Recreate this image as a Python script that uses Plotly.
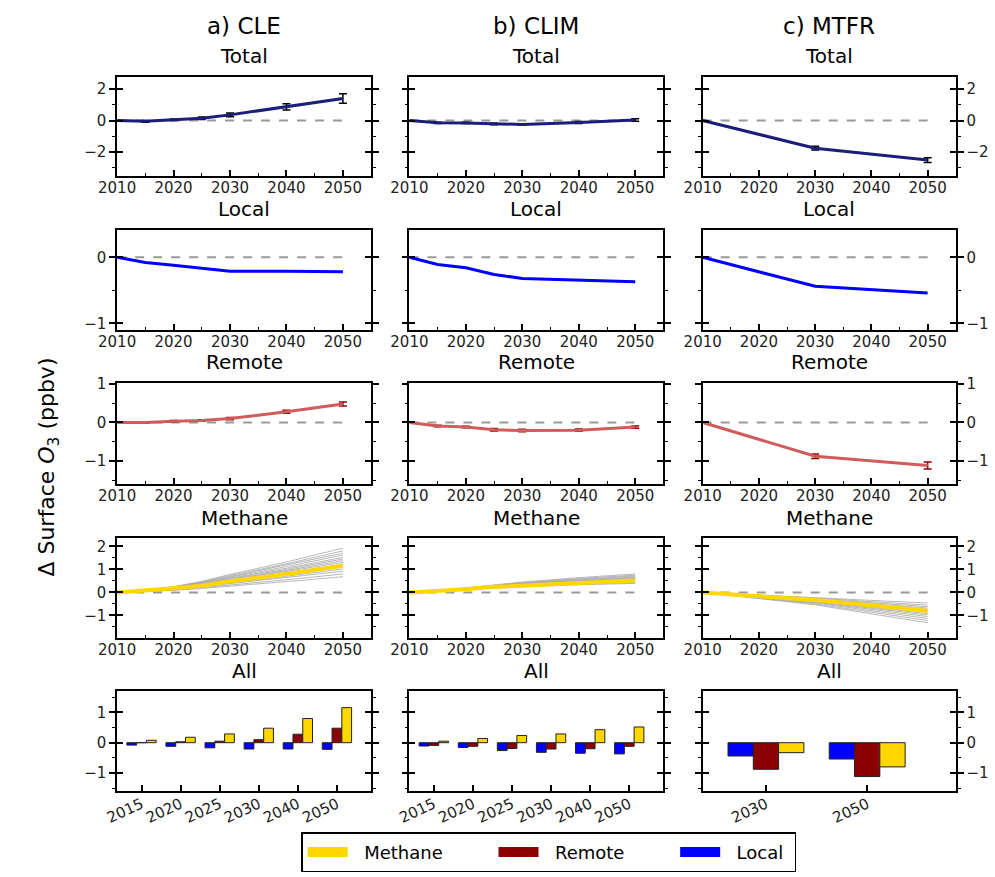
import plotly.graph_objects as go

# ---------------- data ----------------
years_cle = [2010, 2015, 2020, 2025, 2030, 2040, 2050]
years_clim = [2010, 2015, 2020, 2025, 2030, 2040, 2050]
years_mtfr = [2010, 2030, 2050]

total_cle = [0, -0.05, 0.05, 0.15, 0.36, 0.87, 1.40]
total_cle_err = [0, 0.05, 0.05, 0.08, 0.12, 0.20, 0.30]
total_clim = [0, -0.14, -0.15, -0.22, -0.25, -0.12, 0.03]
total_clim_err = [0, 0.04, 0.04, 0.05, 0.05, 0.06, 0.08]
total_mtfr = [0, -1.75, -2.50]
total_mtfr_err = [0, 0.12, 0.15]

local_cle = [0, -0.08, -0.12, -0.17, -0.21, -0.21, -0.22]
local_clim = [0, -0.11, -0.16, -0.26, -0.32, -0.35, -0.37]
local_mtfr = [0, -0.44, -0.54]

remote_cle = [0, 0.00, 0.03, 0.05, 0.10, 0.28, 0.48]
remote_cle_err = [0, 0.02, 0.02, 0.02, 0.03, 0.04, 0.05]
remote_clim = [0, -0.09, -0.12, -0.19, -0.21, -0.20, -0.12]
remote_clim_err = [0, 0.02, 0.02, 0.03, 0.03, 0.03, 0.03]
remote_mtfr = [0, -0.88, -1.12]
remote_mtfr_err = [0, 0.06, 0.09]

methane_cle = [0, 0.08, 0.18, 0.29, 0.48, 0.80, 1.16]
methane_clim = [0, 0.05, 0.14, 0.24, 0.29, 0.43, 0.52]
methane_mtfr = [0, -0.33, -0.80]

# individual methane ensemble members (grey lines)
members_cle = [
    [0, 0.08, 0.25, 0.48, 0.78, 1.32, 1.92],
    [0, 0.08, 0.23, 0.45, 0.73, 1.24, 1.80],
    [0, 0.07, 0.22, 0.43, 0.69, 1.18, 1.70],
    [0, 0.07, 0.21, 0.41, 0.66, 1.12, 1.62],
    [0, 0.07, 0.20, 0.38, 0.62, 1.05, 1.52],
    [0, 0.06, 0.19, 0.36, 0.59, 1.00, 1.45],
    [0, 0.06, 0.18, 0.35, 0.56, 0.95, 1.38],
    [0, 0.06, 0.17, 0.32, 0.53, 0.90, 1.30],
    [0, 0.05, 0.16, 0.30, 0.49, 0.84, 1.22],
    [0, 0.05, 0.15, 0.28, 0.46, 0.78, 1.12],
    [0, 0.04, 0.13, 0.26, 0.41, 0.70, 1.02],
    [0, 0.04, 0.12, 0.23, 0.38, 0.64, 0.92],
    [0, 0.03, 0.10, 0.20, 0.32, 0.55, 0.80],
    [0, 0.03, 0.09, 0.17, 0.28, 0.47, 0.68],
]
members_clim = [
    [0, 0.07, 0.20, 0.33, 0.45, 0.64, 0.80],
    [0, 0.07, 0.19, 0.31, 0.42, 0.60, 0.75],
    [0, 0.06, 0.18, 0.30, 0.40, 0.57, 0.71],
    [0, 0.06, 0.17, 0.29, 0.38, 0.54, 0.67],
    [0, 0.06, 0.17, 0.28, 0.36, 0.51, 0.64],
    [0, 0.06, 0.16, 0.27, 0.35, 0.49, 0.61],
    [0, 0.05, 0.15, 0.26, 0.33, 0.47, 0.58],
    [0, 0.05, 0.15, 0.25, 0.32, 0.45, 0.55],
    [0, 0.05, 0.14, 0.24, 0.30, 0.42, 0.51],
    [0, 0.05, 0.13, 0.22, 0.28, 0.39, 0.47],
    [0, 0.04, 0.12, 0.20, 0.26, 0.36, 0.43],
    [0, 0.04, 0.11, 0.19, 0.24, 0.33, 0.39],
]
members_mtfr = [
    [0, -0.22, -0.46],
    [0, -0.25, -0.55],
    [0, -0.28, -0.62],
    [0, -0.30, -0.68],
    [0, -0.32, -0.74],
    [0, -0.34, -0.80],
    [0, -0.36, -0.86],
    [0, -0.38, -0.92],
    [0, -0.40, -0.98],
    [0, -0.43, -1.05],
    [0, -0.46, -1.13],
    [0, -0.50, -1.22],
    [0, -0.54, -1.32],
]

bar_years_cle = ["2015", "2020", "2025", "2030", "2040", "2050"]
bar_years_clim = ["2015", "2020", "2025", "2030", "2040", "2050"]
bar_years_mtfr = ["2030", "2050"]

column_titles = ["a) CLE", "b) CLIM", "c) MTFR"]
row_titles = ["Total", "Local", "Remote", "Methane", "All"]
legend_names = ["Methane", "Remote", "Local"]

# ---------------- styles ----------------
W, H = 995, 877
COLS = [(100, 359), (398, 657), (697, 955)]
ROWS = [(70, 170), (225, 326), (380, 482), (537, 638), (692, 793)]
C_TOTAL = "#1c1c7a"
C_LOCAL = "#0000ff"
C_REMOTE = "#cf5b5b"
C_REMOTE_BAR = "#8b0000"
C_METH = "#ffd700"
FONT = "DejaVu Sans"
LEGEND_COLORS = [C_METH, C_REMOTE_BAR, C_LOCAL]
NB = "\u00a0"
LEGEND_PAD_AFTER = [8, 8, 1]

Y_RANGES = [[-3.5, 2.75], [-1.1, 0.41], [-1.6, 1.02], [-1.98, 2.35], [-1.6, 1.7]]
Y_DTICK = [2, 1, 1, 1, 1]
Y_MINOR = [1, 0.5, 0.5, 0.5, 0.5]

fig = go.Figure()


def axname(prefix, k):
    return prefix if k == 1 else f"{prefix}{k}"


def pid(k):
    return "" if k == 1 else str(k)


scen = [
    dict(years=years_cle, total=total_cle, total_err=total_cle_err, local=local_cle,
         remote=remote_cle, remote_err=remote_cle_err, methane=methane_cle,
         members=members_cle, bar_years=bar_years_cle),
    dict(years=years_clim, total=total_clim, total_err=total_clim_err, local=local_clim,
         remote=remote_clim, remote_err=remote_clim_err, methane=methane_clim,
         members=members_clim, bar_years=bar_years_clim),
    dict(years=years_mtfr, total=total_mtfr, total_err=total_mtfr_err, local=local_mtfr,
         remote=remote_mtfr, remote_err=remote_mtfr_err, methane=methane_mtfr,
         members=members_mtfr, bar_years=bar_years_mtfr),
]

layout_axes = {}
annotations = []

for r in range(5):
    for c in range(3):
        k = r * 3 + c + 1
        kk = k + 15
        xa, ya = "x" + pid(k), "y" + pid(k)
        s = scen[c]
        yrs = s["years"]

        if r < 4:
            fig.add_trace(go.Scatter(x=[yrs[0], yrs[-1]], y=[0, 0], mode="lines",
                                     line=dict(color="#999999", width=2, dash="dash"),
                                     xaxis=xa, yaxis=ya, showlegend=False, hoverinfo="skip"))
        if r == 0:
            fig.add_trace(go.Scatter(x=yrs, y=s["total"], mode="lines",
                                     line=dict(color=C_TOTAL, width=3),
                                     error_y=dict(type="data", array=s["total_err"], color="black",
                                                  thickness=1.5, width=4),
                                     xaxis=xa, yaxis=ya, showlegend=False))
        elif r == 1:
            fig.add_trace(go.Scatter(x=yrs, y=s["local"], mode="lines",
                                     line=dict(color=C_LOCAL, width=3),
                                     xaxis=xa, yaxis=ya, showlegend=False))
        elif r == 2:
            fig.add_trace(go.Scatter(x=yrs, y=s["remote"], mode="lines",
                                     line=dict(color=C_REMOTE, width=3),
                                     error_y=dict(type="data", array=s["remote_err"], color=C_REMOTE_BAR,
                                                  thickness=1.5, width=4),
                                     xaxis=xa, yaxis=ya, showlegend=False))
        elif r == 3:
            for m in s["members"]:
                fig.add_trace(go.Scatter(x=yrs, y=m, mode="lines",
                                         line=dict(color="rgba(160,160,160,0.75)", width=1),
                                         xaxis=xa, yaxis=ya, showlegend=False, hoverinfo="skip"))
            fig.add_trace(go.Scatter(x=yrs, y=s["methane"], mode="lines",
                                     line=dict(color=C_METH, width=4),
                                     xaxis=xa, yaxis=ya, showlegend=False))
        else:
            fig.add_trace(go.Bar(x=s["bar_years"], y=s["local"][1:], name="Local",
                                 marker=dict(color=C_LOCAL, line=dict(color="#222222", width=1)),
                                 xaxis=xa, yaxis=ya, showlegend=False))
            fig.add_trace(go.Bar(x=s["bar_years"], y=s["remote"][1:], name="Remote",
                                 marker=dict(color=C_REMOTE_BAR, line=dict(color="#222222", width=1)),
                                 xaxis=xa, yaxis=ya, showlegend=False))
            fig.add_trace(go.Bar(x=s["bar_years"], y=s["methane"][1:], name="Methane",
                                 marker=dict(color=C_METH, line=dict(color="#222222", width=1)),
                                 xaxis=xa, yaxis=ya, showlegend=False))

        # invisible trace hosting overlay axis (inward half of the y ticks)
        fig.add_trace(go.Scatter(x=[None], y=[None], xaxis=xa, yaxis="y" + pid(kk),
                                 showlegend=False, hoverinfo="skip"))

        x0, x1 = COLS[c]
        y0, y1 = ROWS[r]
        xdom = [x0 / W, x1 / W]
        ydom = [1 - y1 / H, 1 - y0 / H]

        if r < 4:
            xaxis = dict(domain=xdom, anchor=ya, range=[2010, 2055], tick0=2010, dtick=10,
                         ticks="inside", ticklen=6, tickwidth=1.5, tickcolor="black",
                         minor=dict(tick0=2010, dtick=5, ticks="inside", ticklen=3, tickwidth=1.2,
                                    tickcolor="black"),
                         showline=True, linecolor="black", linewidth=1.5, mirror=True,
                         showgrid=False, zeroline=False, ticklabelstandoff=-3,
                         tickfont=dict(size=15, family=FONT, color="#222222"))
        else:
            ncat = len(s["bar_years"])
            xaxis = dict(domain=xdom, anchor=ya, type="category", range=[-0.625, ncat - 0.125],
                         ticks="inside", ticklen=6, tickwidth=1.5, tickcolor="black",
                         tickangle=-25, ticklabelstandoff=-3,
                         showline=True, linecolor="black", linewidth=1.5, mirror=True,
                         showgrid=False, zeroline=False,
                         tickfont=dict(size=15, family=FONT, color="#222222"))
        yaxis = dict(domain=ydom, anchor=xa, range=Y_RANGES[r], dtick=Y_DTICK[r], tick0=0,
                     ticks="outside", ticklen=6, tickwidth=1.5, tickcolor="black",
                     minor=dict(dtick=Y_MINOR[r], tick0=0, ticks="outside", ticklen=3, tickwidth=1.2,
                                tickcolor="black"),
                     showline=True, linecolor="black", linewidth=1.5, mirror="ticks",
                     showgrid=False, zeroline=False,
                     showticklabels=(c != 1), side=("right" if c == 2 else "left"),
                     tickfont=dict(size=15, family=FONT, color="#222222"))
        yaxis_ov = dict(overlaying=ya, anchor=xa, range=Y_RANGES[r], dtick=Y_DTICK[r], tick0=0,
                        ticks="inside", ticklen=6, tickwidth=1.5, tickcolor="black",
                        mirror="ticks", showline=False, showgrid=False, zeroline=False,
                        showticklabels=False, side=("right" if c == 2 else "left"))
        layout_axes[axname("xaxis", k)] = xaxis
        layout_axes[axname("yaxis", k)] = yaxis
        layout_axes[axname("yaxis", kk)] = yaxis_ov

        annotations.append(dict(text=row_titles[r], x=(x0 + x1) / 2 / W, y=1 - (y0 - 21) / H,
                                xref="paper", yref="paper", showarrow=False,
                                font=dict(size=20, family=FONT, color="black"),
                                xanchor="center", yanchor="middle"))

# legend proxies (wide colour swatches like the reference)
for name, col, pad in zip(legend_names, LEGEND_COLORS, LEGEND_PAD_AFTER):
    fig.add_trace(go.Scatter(x=[None], y=[None], mode="lines", name=NB * 2 + name + NB * pad,
                             line=dict(color=col, width=14), xaxis="x", yaxis="y",
                             showlegend=True, hoverinfo="skip"))

for c in range(3):
    x0, x1 = COLS[c]
    annotations.append(dict(text=column_titles[c], x=(x0 + x1) / 2 / W, y=1 - 18 / H,
                            xref="paper", yref="paper", showarrow=False,
                            font=dict(size=23, family=FONT, color="black"),
                            xanchor="center", yanchor="middle"))

annotations.append(dict(text="Δ Surface <i>O</i><sub>3</sub> (ppbv)", x=30 / W, y=1 - 465 / H,
                        xref="paper", yref="paper", showarrow=False, textangle=-90,
                        font=dict(size=22, family=FONT, color="black"),
                        xanchor="center", yanchor="middle"))

fig.update_layout(
    width=W, height=H, margin=dict(l=0, r=0, t=0, b=0),
    paper_bgcolor="white", plot_bgcolor="white",
    barmode="group", bargap=0.25, bargroupgap=0,
    annotations=annotations,
    legend=dict(orientation="h", x=540 / W, xanchor="center", y=1 - 855 / H, yanchor="middle",
                bordercolor="black", borderwidth=1.5, font=dict(size=18, family=FONT, color="black"),
                bgcolor="white", itemwidth=40),
    **layout_axes,
)

fig.write_html("out.html")
